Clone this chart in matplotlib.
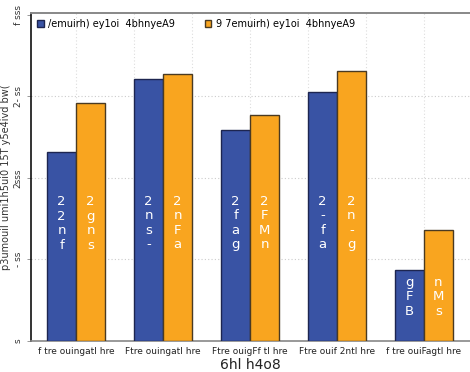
import matplotlib
matplotlib.use("Agg")
import matplotlib.pyplot as plt
import numpy as np

categories = ["f tre ouingatl hre", "Ftre ouingatl hre", "Ftre ouigFf tl hre",
              "Ftre ouif 2ntl hre", "f tre ouiFagtl hre"]
series_names = ["/emuirh) ey1oi  4bhnyeA9", "9 7emuirh) ey1oi  4bhnyeA9"]
blue_values = [1162, 1605, 1294, 1529, 437]
orange_values = [1460, 1639, 1386, 1654, 680]
blue_labels = ["22nf", "2ns-", "2fag", "2-fa", "gFB"]
orange_labels = ["2gns", "2nFa", "2FMn", "2n-g", "nMs"]
y_ticks = [0, 500, 1000, 1500, 2000]
y_tick_labels = ["s", "- ss", "2sss", "2- ss", "f sss"]
x_title = "6hl h4o8"
y_title = "p3umouil umi1h5ui0 15T y5e4ivd bw("

BLUE = "#3953a4"
ORANGE = "#f9a51f"

fig = plt.figure(figsize=(4.70, 3.72), dpi=100)
ax = fig.add_axes([31 / 470, 31 / 372, 439 / 470, 328 / 372])

x = np.arange(len(categories))
w = 0.333
ax.bar(x - w / 2, blue_values, w, color=BLUE, edgecolor="#1d2550",
       linewidth=1.0, zorder=3, label=series_names[0])
ax.bar(x + w / 2, orange_values, w, color=ORANGE, edgecolor="#4a3a22",
       linewidth=1.0, zorder=3, label=series_names[1])

# stacked (one glyph per line) value labels inside the bars
for i in range(len(categories)):
    ly = min(725, 0.62 * min(blue_values[i], orange_values[i]))
    for xp, txt in ((x[i] - w / 2, blue_labels[i]), (x[i] + w / 2, orange_labels[i])):
        ax.text(xp, ly, "\n".join(txt), ha="center", va="center", color="white",
                fontsize=9.5, linespacing=1.15, zorder=5)

ax.set_xlim(-0.52, 4.53)
ax.set_ylim(0, 2012)
ax.set_yticks(y_ticks)
ax.set_yticklabels(y_tick_labels, rotation=90, va="center", fontsize=6.5, color="#333333")
ax.set_xticks(x)
ax.set_xticklabels(categories, fontsize=6.5, color="#222222")
ax.tick_params(axis="y", length=3, width=0.6, pad=3, color="#888888")
ax.tick_params(axis="x", length=0, pad=4)

# light dotted grid
for yv in y_ticks[1:-1]:
    ax.axhline(yv, color="#cccccc", lw=0.8, ls=(0, (1, 2)), zorder=1)
for xv in np.arange(0, 4.01, 2 / 3):
    ax.axvline(xv, color="#dddddd", lw=0.8, ls=(0, (1, 2)), zorder=1)

ax.spines["right"].set_visible(False)
ax.spines["left"].set_color("#111111")
ax.spines["left"].set_linewidth(1.2)
ax.spines["top"].set_color("#888888")
ax.spines["top"].set_linewidth(1.4)
ax.spines["top"].set_linestyle((0, (2, 1)))
ax.spines["bottom"].set_color("#888888")
ax.spines["bottom"].set_linewidth(1.2)
ax.spines["bottom"].set_linestyle((0, (1, 1)))

ax.set_xlabel(x_title, fontsize=10, labelpad=2, color="#222222")
ax.set_ylabel(y_title, fontsize=7, labelpad=2, color="#333333")

ax.legend(loc="upper left", ncol=2, frameon=False, fontsize=7, handlelength=0.7,
          handleheight=0.7, handletextpad=0.5, columnspacing=3.0,
          borderaxespad=0.2, bbox_to_anchor=(0.0, 1.0))

fig.savefig("out.png", dpi=100)
